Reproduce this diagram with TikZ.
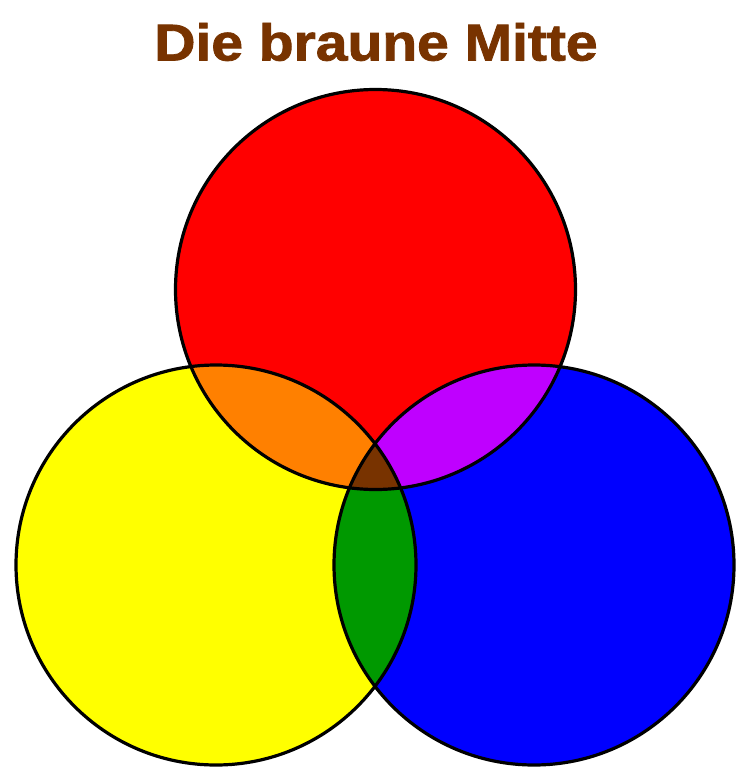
\documentclass[tikz,border=0pt]{standalone}
\usepackage{fontspec}
\setmainfont{Liberation Sans}
\newfontfamily\titlefont[FakeBold=1.5]{Liberation Sans Bold}
\definecolor{brn}{RGB}{120,51,0}
\definecolor{org}{RGB}{255,128,0}
\definecolor{mag}{RGB}{191,0,255}
\definecolor{grn}{RGB}{0,153,0}
\definecolor{ylw}{RGB}{255,255,0}
\definecolor{rd}{RGB}{255,0,0}
\definecolor{bl}{RGB}{0,0,255}
\begin{document}
\begin{tikzpicture}[x=1bp,y=-1bp,line width=3.2bp,
  ring/.style={draw=black}]
\useasboundingbox (0,0) rectangle (750,780);
\def\R{200}
\coordinate (r) at (375.5,289.5);
\coordinate (y) at (216,565);
\coordinate (b) at (534,565);
\fill[rd] (r) circle[radius=\R];
\fill[ylw] (y) circle[radius=\R];
\fill[bl] (b) circle[radius=\R];
\begin{scope}
  \clip (r) circle[radius=\R];
  \fill[org] (y) circle[radius=\R];
  \fill[mag] (b) circle[radius=\R];
\end{scope}
\begin{scope}
  \clip (y) circle[radius=\R];
  \fill[grn] (b) circle[radius=\R];
  \clip (b) circle[radius=\R];
  \fill[brn] (r) circle[radius=\R];
\end{scope}
\draw[ring] (r) circle[radius=\R];
\draw[ring] (y) circle[radius=\R];
\draw[ring] (b) circle[radius=\R];
\node[anchor=base, text=brn, font=\fontsize{52}{58}\titlefont, inner sep=0, xscale=1.10] (title) at (376,60.5) {Die braune Mitte};
\end{tikzpicture}
\end{document}
